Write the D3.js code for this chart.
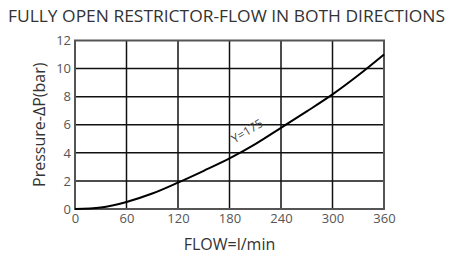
<!DOCTYPE html>
<html>
<head>
<meta charset="utf-8">
<script src="https://cdn.jsdelivr.net/npm/d3@7"></script>
<style>
  body { margin: 0; background: #fff; }
  text { font-family: "Open Sans", "DejaVu Sans", sans-serif; }
</style>
</head>
<body>
<svg id="chart"></svg>
<script>
"use strict";

var width = 450
  , height = 256
  , margin = {top: 40.5, right: 66, bottom: 47, left: 75};

// flow (l/min) and pressure drop (bar)
var flow = [0, 30, 60, 90, 120, 150, 180, 210, 240, 270, 300, 330, 360];
var pressure = [0, 0.1, 0.5, 1.1, 1.88, 2.72, 3.6, 4.62, 5.78, 6.95, 8.16, 9.52, 11.0];

var xTicks = [0, 60, 120, 180, 240, 300, 360];
var yTicks = [0, 2, 4, 6, 8, 10, 12];

var title = "FULLY OPEN RESTRICTOR-FLOW IN BOTH DIRECTIONS";
var xTitle = "FLOW=l/min";
var yTitle = "Pressure-\u0394P(bar)";
var curveLabel = "Y=175";

var svg = d3.select("#chart")
  .attr("width", width)
  .attr("height", height);

var x = d3.scaleLinear().domain([0, 360]).range([margin.left, width - margin.right]);
var y = d3.scaleLinear().domain([0, 12]).range([height - margin.bottom, margin.top]);

// title
svg.append("text")
  .attr("x", 8)
  .attr("y", 22)
  .attr("textLength", 437)
  .attr("lengthAdjust", "spacingAndGlyphs")
  .style("font-size", "16px")
  .style("fill", "#333")
  .text(title);

// grid
var grid = svg.append("g");

grid.selectAll(".vline")
  .data(xTicks.slice(1, -1))
  .enter()
  .append("line")
  .attr("x1", function (d) { return x(d); })
  .attr("x2", function (d) { return x(d); })
  .attr("y1", y(0))
  .attr("y2", y(12))
  .style("stroke", "#111")
  .style("stroke-width", 1.5);

grid.selectAll(".hline")
  .data(yTicks.slice(1, -1))
  .enter()
  .append("line")
  .attr("x1", x(0))
  .attr("x2", x(360))
  .attr("y1", function (d) { return y(d); })
  .attr("y2", function (d) { return y(d); })
  .style("stroke", "#111")
  .style("stroke-width", 1.5);

// frame
svg.append("rect")
  .attr("x", x(0))
  .attr("y", y(12))
  .attr("width", x(360) - x(0))
  .attr("height", y(0) - y(12))
  .style("fill", "none")
  .style("stroke", "#555")
  .style("stroke-width", 2);

// axes (labels only, lines come from the frame)
var xAxis = d3.axisBottom(x).tickValues(xTicks).tickSize(0).tickPadding(5);
var yAxis = d3.axisLeft(y).tickValues(yTicks).tickSize(0).tickPadding(4);

var gx = svg.append("g")
  .attr("transform", "translate(0," + y(0) + ")")
  .call(xAxis);
var gy = svg.append("g")
  .attr("transform", "translate(" + x(0) + ",0)")
  .call(yAxis);

[gx, gy].forEach(function (g) {
  g.select(".domain").remove();
  g.selectAll("text")
    .style("font-family", "\"Open Sans\", \"DejaVu Sans\", sans-serif")
    .style("font-size", "13px")
    .style("fill", "#555");
});

// curve
var line = d3.line()
  .x(function (d, i) { return x(flow[i]); })
  .y(function (d) { return y(d); })
  .curve(d3.curveCatmullRom);

svg.append("path")
  .datum(pressure)
  .attr("d", line)
  .style("fill", "none")
  .style("stroke", "#000")
  .style("stroke-width", 2);

svg.append("text")
  .attr("transform", "translate(" + x(203) + "," + y(5.3) + ") rotate(-31)")
  .style("text-anchor", "middle")
  .style("font-size", "12px")
  .style("fill", "#444")
  .text(curveLabel);

// axis titles
svg.append("text")
  .attr("x", x(180))
  .attr("y", 250)
  .style("text-anchor", "middle")
  .style("font-size", "16px")
  .style("fill", "#333")
  .text(xTitle);

svg.append("text")
  .attr("transform", "translate(45," + y(6) + ") rotate(-90)")
  .style("text-anchor", "middle")
  .style("font-size", "16px")
  .style("fill", "#333")
  .text(yTitle);
</script>
</body>
</html>
